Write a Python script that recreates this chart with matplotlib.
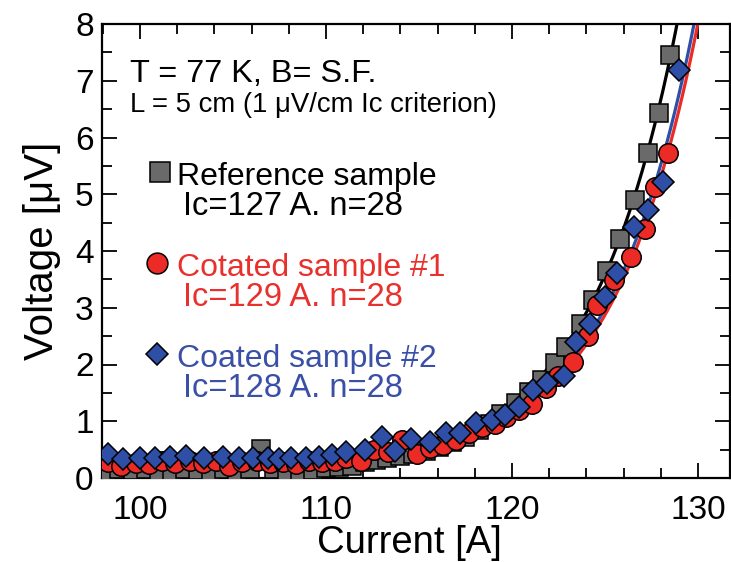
import numpy as np
import matplotlib
matplotlib.use("Agg")
import matplotlib.pyplot as plt
from matplotlib.ticker import MultipleLocator

plt.rcParams['font.family'] = ['Liberation Sans', 'DejaVu Sans']

# ---- data ----
ref_I = [98.2, 98.9, 99.6, 100.3, 101.0, 101.7, 102.4, 103.1, 103.8, 104.5,
         105.2, 105.9, 106.5, 107.2, 107.9, 108.6, 109.3, 110.0, 110.7, 111.4,
         112.1, 112.7, 113.3, 114.0, 114.7, 115.4, 116.1, 116.8, 117.5, 118.2,
         118.8, 119.4, 120.2, 120.9, 121.6, 122.3, 122.9, 123.7, 124.35, 125.1,
         125.8, 126.6, 127.3, 127.9, 128.5]
ref_V = [0.12, 0.15, 0.14, 0.16, 0.13, 0.07, 0.16, 0.14, 0.12, 0.15,
         0.12, 0.16, 0.51, 0.15, 0.13, 0.07, 0.14, 0.17, 0.19, 0.21,
         0.29, 0.32, 0.35, 0.38, 0.42, 0.48, 0.55, 0.63, 0.72, 0.85,
         0.95, 1.13, 1.32, 1.51, 1.73, 2.03, 2.31, 2.71, 3.13, 3.64,
         4.22, 4.89, 5.72, 6.43, 7.46]

c1_I = [98.3, 99.0, 99.8, 100.5, 101.2, 101.9, 102.7, 103.4, 104.1, 104.8,
        105.5, 106.3, 107.0, 107.7, 108.4, 109.1, 109.8, 110.5, 111.1, 111.9,
        112.6, 113.35, 114.1, 114.9, 115.6, 116.3, 117.0, 117.7, 118.4, 119.1,
        119.7, 120.4, 121.1, 121.85, 122.5, 123.3, 124.1, 124.55, 125.5, 126.4,
        127.15, 127.7, 128.4]
c1_V = [0.28, 0.22, 0.27, 0.24, 0.30, 0.27, 0.30, 0.26, 0.30, 0.22,
        0.28, 0.30, 0.26, 0.28, 0.25, 0.30, 0.28, 0.30, 0.35, 0.30,
        0.49, 0.46, 0.67, 0.43, 0.53, 0.58, 0.67, 0.79, 0.90, 0.96,
        1.08, 1.20, 1.30, 1.58, 1.79, 2.05, 2.50, 3.05, 3.49, 3.90,
        4.38, 5.13, 5.72]

c2_I = [98.3, 99.1, 100.0, 100.8, 101.6, 102.5, 103.45, 104.45, 105.3, 106.1,
        106.9, 107.5, 108.1, 108.9, 109.6, 110.3, 111.1, 112.1, 113.0, 113.7,
        114.55, 115.6, 116.45, 117.2, 118.06, 118.9, 119.6, 120.4, 121.15, 121.9,
        122.8, 123.44, 124.19, 125.0, 125.66, 126.56, 127.3, 128.1, 129.0]
c2_V = [0.43, 0.34, 0.36, 0.35, 0.37, 0.38, 0.36, 0.37, 0.36, 0.35,
        0.35, 0.34, 0.35, 0.35, 0.37, 0.40, 0.45, 0.49, 0.73, 0.48,
        0.68, 0.64, 0.79, 0.79, 0.97, 1.02, 1.11, 1.25, 1.55, 1.67,
        1.79, 2.39, 2.71, 3.19, 3.62, 4.43, 4.73, 5.22, 7.19]

# power-law fit curves V = V0 + Vc*(I/Ic)^n  (Vc = 1 uV/cm * 5 cm)
fit_Ic = [126.9, 128.0, 127.8]
fit_n = [28, 28, 28]
fit_V0 = 0.3
fit_Vc = 5.0

labels = ["Reference sample", "Cotated sample #1", "Coated sample #2"]
sublabels = ["Ic=127 A. n=28", "Ic=129 A. n=28", "Ic=128 A. n=28"]

xticks = [100, 110, 120, 130]
yticks = [0, 1, 2, 3, 4, 5, 6, 7, 8]

# ---- style ----
gray = '#6a6a6a'
red = '#ec2a26'
blue = '#2f4ea6'
red_txt = '#e8302c'
blue_txt = '#3a4fa6'

fig = plt.figure(figsize=(7.31, 5.62), dpi=100)
ax = fig.add_axes([102/731, 84/562, 628/731, 454/562])

xmin, xmax = 97.96, 131.72
I_curve = np.linspace(xmin, xmax, 600)
for Ic, n, col in zip(fit_Ic, fit_n, ['black', red, blue]):
    V = fit_V0 + fit_Vc * (I_curve / Ic) ** n
    ax.plot(I_curve, V, color=col, lw=2.3, zorder=2)

mk = dict(markeredgecolor='black', markeredgewidth=1.1, linestyle='none')
ax.plot(ref_I, ref_V, marker='s', markersize=13, markerfacecolor=gray, zorder=3, **mk)
ax.plot(c1_I, c1_V, marker='o', markersize=14, markerfacecolor=red, zorder=4, **mk)
ax.plot(c2_I, c2_V, marker='D', markersize=11, markerfacecolor=blue, zorder=5, **mk)

ax.set_xlim(xmin, xmax)
ax.set_ylim(0, 8)
ax.set_xticks(xticks)
ax.set_yticks(yticks)
ax.xaxis.set_minor_locator(MultipleLocator(2))
ax.yaxis.set_minor_locator(MultipleLocator(0.5))
ax.tick_params(which='both', direction='in', top=True, right=True, width=1.3,
               labelsize=24)
ax.tick_params(axis='x', which='both', pad=12)
ax.tick_params(axis='y', which='both', pad=6)
ax.tick_params(which='major', length=11)
ax.tick_params(which='minor', length=7)
for s in ax.spines.values():
    s.set_linewidth(1.6)

ax.set_xlabel("Current [A]", fontsize=27.5)
ax.xaxis.set_label_coords(0.49, -0.103)
ax.set_ylabel("Voltage [μV]", fontsize=29, labelpad=10)

def fx(px):
    return (px - 102) / 628

def fy(py):
    return (478 - py) / 454

T = ax.transAxes
ax.text(fx(130), fy(82), "T = 77 K, B= S.F.", transform=T, fontsize=23.4, va='baseline')
ax.text(fx(130), fy(112), "L = 5 cm (1 μV/cm Ic criterion)", transform=T, fontsize=19.8, va='baseline')

ax.plot([fx(160)], [fy(172)], transform=T, marker='s', markersize=14,
        markerfacecolor=gray, **mk, clip_on=False)
ax.plot([fx(157)], [fy(263)], transform=T, marker='o', markersize=15,
        markerfacecolor=red, **mk, clip_on=False)
ax.plot([fx(157)], [fy(354)], transform=T, marker='D', markersize=11.5,
        markerfacecolor=blue, **mk, clip_on=False)

cols = ['black', red_txt, blue_txt]
base = [185, 276, 367]
for lab, sub, c, b in zip(labels, sublabels, cols, base):
    ax.text(fx(177), fy(b), lab, transform=T, fontsize=23, color=c, va='baseline')
    ax.text(fx(183), fy(b + 30), sub, transform=T, fontsize=23.5, color=c, va='baseline')

fig.savefig("out.png", dpi=100, facecolor='white')
